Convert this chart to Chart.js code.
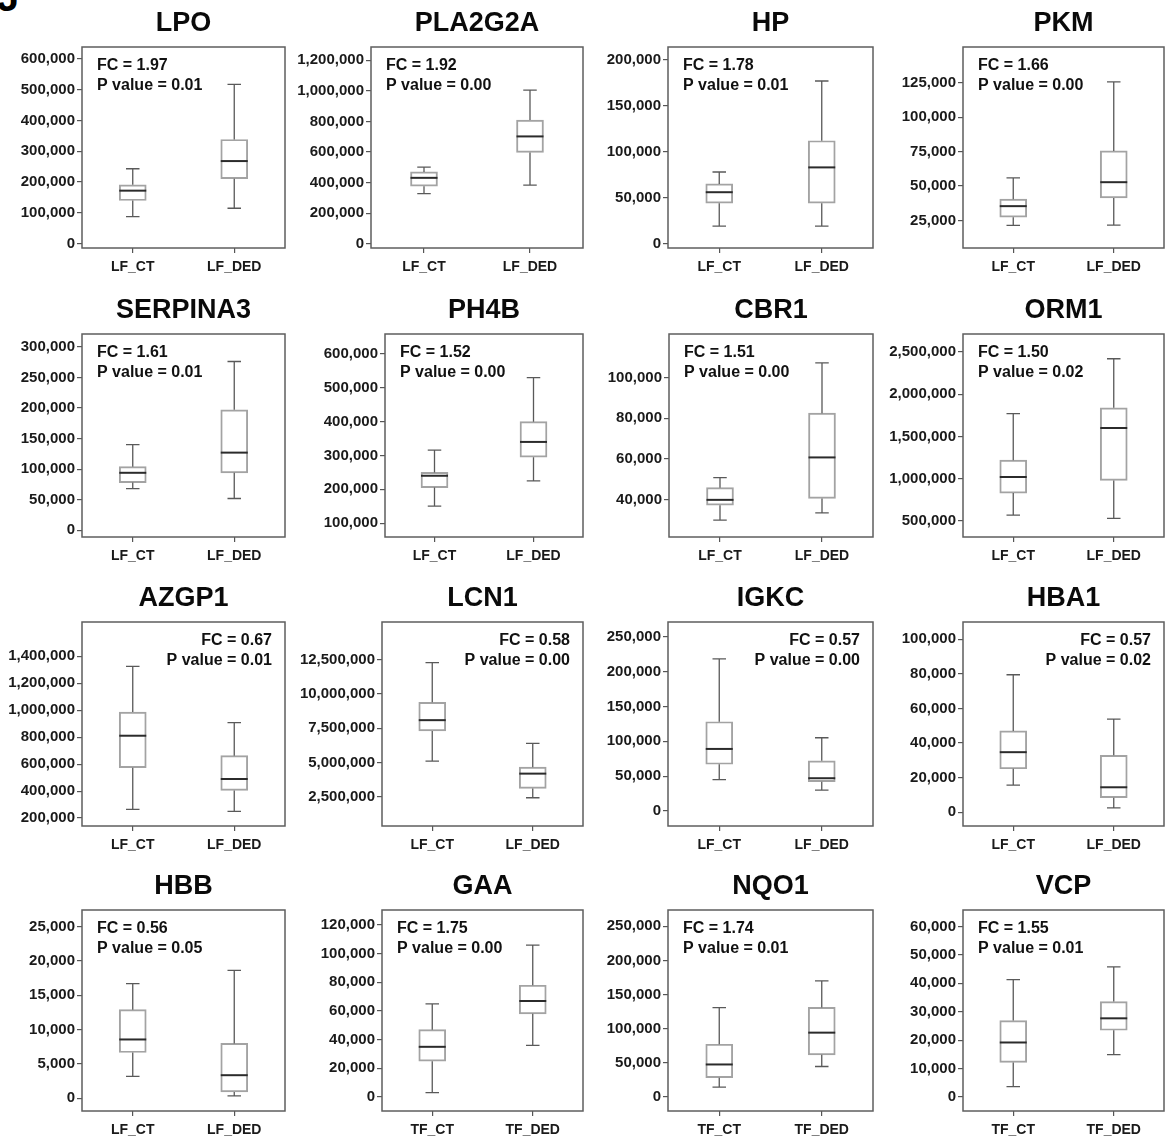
<!DOCTYPE html>
<html>
<head>
<meta charset="utf-8">
<script src="https://cdn.jsdelivr.net/npm/chart.js@4.4.0/dist/chart.umd.min.js"></script>
<style>
  body { margin: 0; background: #fff; width: 1174px; height: 1141px; position: relative; overflow: hidden; }
  canvas { position: absolute; }
  #tag { position: absolute; left: -3px; top: -25px; font: bold 40px "Liberation Sans", sans-serif; color: #000; }
</style>
</head>
<body>
<div id="tag">J</div>
<script>
// gene panels, read left to right, top to bottom
const genes = ['LPO', 'PLA2G2A', 'HP', 'PKM', 'SERPINA3', 'PH4B', 'CBR1', 'ORM1',
               'AZGP1', 'LCN1', 'IGKC', 'HBA1', 'HBB', 'GAA', 'NQO1', 'VCP'];
const lfGroups = ['LF_CT', 'LF_DED'];
const tfGroups = ['TF_CT', 'TF_DED'];
const tearFluid = ['GAA', 'NQO1', 'VCP'];

// box plot values, [control, dry eye] for each gene
const whiskerLow = [
  [88000, 115000], [328000, 383000], [19000, 19000], [21400, 21600],
  [68000, 52000], [150000, 225000], [29800, 33400], [570000, 530000],
  [264000, 250000], [5100000, 2430000], [45000, 30000], [15600, 2500],
  [3200, 340], [3000, 36000], [14100, 44300], [3700, 14900]
];
const quartile1 = [
  [140000, 211000], [376000, 597000], [44000, 44000], [27400, 41400],
  [78000, 94000], [205000, 295000], [37200, 40500], [830000, 980000],
  [574000, 405000], [7300000, 3110000], [67000, 42000], [25100, 8400],
  [6660, 920], [25000, 58000], [27800, 61400], [12200, 23500]
];
const medians = [
  [172000, 268000], [431000, 702000], [56000, 83000], [35400, 52800],
  [94000, 127000], [240000, 340000], [39800, 60700], [1020000, 1600000],
  [811000, 490000], [8090000, 4190000], [89000, 47000], [34700, 14400],
  [8560, 3360], [35000, 67000], [47300, 94000], [19200, 27700]
];
const quartile3 = [
  [191000, 338000], [470000, 809000], [65000, 112000], [40500, 75500],
  [104000, 197000], [250000, 400000], [45800, 82500], [1220000, 1840000],
  [987000, 663000], [9390000, 4660000], [128000, 72000], [47000, 32900],
  [12900, 7980], [47000, 78000], [77000, 131000], [26900, 33600]
];
const whiskerHigh = [
  [243000, 517000], [501000, 1005000], [78000, 177000], [56000, 125700],
  [140000, 276000], [316000, 530000], [50700, 107300], [1770000, 2420000],
  [1326000, 908000], [12280000, 6400000], [218000, 105000], [79500, 53800],
  [16700, 18600], [65000, 106000], [130600, 170000], [41300, 45800]
];

const foldChanges = ['1.97', '1.92', '1.78', '1.66', '1.61', '1.52', '1.51', '1.50',
                     '0.67', '0.58', '0.57', '0.57', '0.56', '1.75', '1.74', '1.55'];
const pValues = ['0.01', '0.00', '0.01', '0.00', '0.01', '0.00', '0.00', '0.02',
                 '0.01', '0.00', '0.00', '0.02', '0.05', '0.00', '0.01', '0.01'];

// y axis tick labels and visible range
const yTicks = [
  [0, 100000, 200000, 300000, 400000, 500000, 600000],
  [0, 200000, 400000, 600000, 800000, 1000000, 1200000],
  [0, 50000, 100000, 150000, 200000],
  [25000, 50000, 75000, 100000, 125000],
  [0, 50000, 100000, 150000, 200000, 250000, 300000],
  [100000, 200000, 300000, 400000, 500000, 600000],
  [40000, 60000, 80000, 100000],
  [500000, 1000000, 1500000, 2000000, 2500000],
  [200000, 400000, 600000, 800000, 1000000, 1200000, 1400000],
  [2500000, 5000000, 7500000, 10000000, 12500000],
  [0, 50000, 100000, 150000, 200000, 250000],
  [0, 20000, 40000, 60000, 80000, 100000],
  [0, 5000, 10000, 15000, 20000, 25000],
  [0, 20000, 40000, 60000, 80000, 100000, 120000],
  [0, 50000, 100000, 150000, 200000, 250000],
  [0, 10000, 20000, 30000, 40000, 50000, 60000]
];
const yMin = [-14000, -28000, -4700, 5000, -11000, 59000, 21500, 310000,
              141000, 370000, -21500, -8000, -1850, -9800, -21000, -4900];
const yMax = [638000, 1287000, 214000, 151000, 321000, 659000, 121500, 2713000,
              1655000, 15250000, 271000, 110000, 27400, 130500, 274000, 65800];

// page layout (plot frame edges in px)
const plotLeft = [82, 371, 668, 963, 82, 385, 669, 963, 82, 382, 668, 963, 82, 382, 668, 963];
const colRight = [285, 583, 873, 1164];
const rowTop = [47, 334, 622, 910];
const rowBottom = [248, 537, 826, 1111];
const notesOnRight = ['AZGP1', 'LCN1', 'IGKC', 'HBA1'];

const AXIS_W = 95, TITLE_H = 47, XAXIS_H = 32, PAD_R = 4;
const FONT = '"Liberation Sans", Arial, sans-serif';

function withCommas(v) {
  return String(v).replace(/\B(?=(\d{3})+(?!\d))/g, ',');
}

function boxPlugin(i) {
  return {
    id: 'whiskers',
    afterDatasetsDraw(chart) {
      const ctx = chart.ctx;
      const y = chart.scales.y;
      const bars = chart.getDatasetMeta(0).data;
      ctx.save();
      bars.forEach((bar, j) => {
        const x = bar.x;
        const cap = bar.width / 4;
        const lo = y.getPixelForValue(whiskerLow[i][j]);
        const hi = y.getPixelForValue(whiskerHigh[i][j]);
        const q1 = y.getPixelForValue(quartile1[i][j]);
        const q3 = y.getPixelForValue(quartile3[i][j]);
        const med = y.getPixelForValue(medians[i][j]);

        ctx.strokeStyle = '#595959';
        ctx.lineWidth = 1.3;
        ctx.beginPath();
        ctx.moveTo(x, q3); ctx.lineTo(x, hi);
        ctx.moveTo(x - cap, hi); ctx.lineTo(x + cap, hi);
        ctx.moveTo(x, q1); ctx.lineTo(x, lo);
        ctx.moveTo(x - cap, lo); ctx.lineTo(x + cap, lo);
        ctx.stroke();

        ctx.strokeStyle = '#2b2b2b';
        ctx.lineWidth = 2;
        ctx.beginPath();
        ctx.moveTo(x - bar.width / 2, med); ctx.lineTo(x + bar.width / 2, med);
        ctx.stroke();
      });
      ctx.restore();
    },
    afterDraw(chart) {
      const ctx = chart.ctx;
      const a = chart.chartArea;
      ctx.save();
      ctx.strokeStyle = '#5e5e5e';
      ctx.lineWidth = 1.5;
      ctx.strokeRect(a.left, a.top, a.right - a.left, a.bottom - a.top);

      // FC / P value note
      const right = notesOnRight.includes(genes[i]);
      ctx.font = 'bold 16px ' + FONT;
      ctx.fillStyle = '#111';
      ctx.textBaseline = 'middle';
      ctx.textAlign = right ? 'right' : 'left';
      const tx = right ? a.right - 13 : a.left + 15;
      ctx.fillText('FC = ' + foldChanges[i], tx, a.top + 19);
      ctx.fillText('P value = ' + pValues[i], tx, a.top + 39);
      ctx.restore();
    }
  };
}

genes.forEach((gene, i) => {
  const col = i % 4, row = Math.floor(i / 4);
  const left = plotLeft[i], right = colRight[col];
  const top = rowTop[row], bottom = rowBottom[row];

  const cv = document.createElement('canvas');
  cv.width = right - left + AXIS_W + PAD_R;
  cv.height = bottom - top + TITLE_H + XAXIS_H;
  cv.style.left = (left - AXIS_W) + 'px';
  cv.style.top = (top - TITLE_H) + 'px';
  document.body.appendChild(cv);

  new Chart(cv, {
    type: 'bar',
    data: {
      labels: tearFluid.includes(gene) ? tfGroups : lfGroups,
      datasets: [{
        data: quartile1[i].map((q, j) => [q, quartile3[i][j]]),
        backgroundColor: 'rgba(255,255,255,0)',
        borderColor: '#a3a3a3',
        borderWidth: 1.3,
        borderSkipped: false,
        barThickness: 27
      }]
    },
    options: {
      responsive: false,
      animation: false,
      layout: { padding: { left: 0, right: PAD_R, top: 0, bottom: 0 } },
      plugins: {
        legend: { display: false },
        tooltip: { enabled: false },
        title: {
          display: true,
          text: gene,
          fullSize: false,
          color: '#0a0a0a',
          font: { family: FONT, size: 27, weight: 'bold', lineHeight: 1.2 },
          padding: { top: 7, bottom: 7.6 }
        }
      },
      scales: {
        x: {
          offset: true,
          border: { display: false },
          grid: { offset: false, drawOnChartArea: false, tickLength: 5, color: '#555', lineWidth: 1.2 },
          ticks: { font: { family: FONT, size: 14, weight: 'bold' }, color: '#1a1a1a', padding: 6 },
          afterFit: s => { s.height = XAXIS_H; }
        },
        y: {
          min: yMin[i],
          max: yMax[i],
          border: { display: false },
          grid: { drawOnChartArea: false, tickLength: 5, color: '#555', lineWidth: 1.2 },
          ticks: { font: { family: FONT, size: 15, weight: 'bold' }, color: '#1a1a1a', padding: 2,
                   autoSkip: false, callback: v => withCommas(v) },
          afterBuildTicks: s => { s.ticks = yTicks[i].map(v => ({ value: v })); },
          afterFit: s => { s.width = AXIS_W; }
        }
      }
    },
    plugins: [boxPlugin(i)]
  });
});
</script>
</body>
</html>
